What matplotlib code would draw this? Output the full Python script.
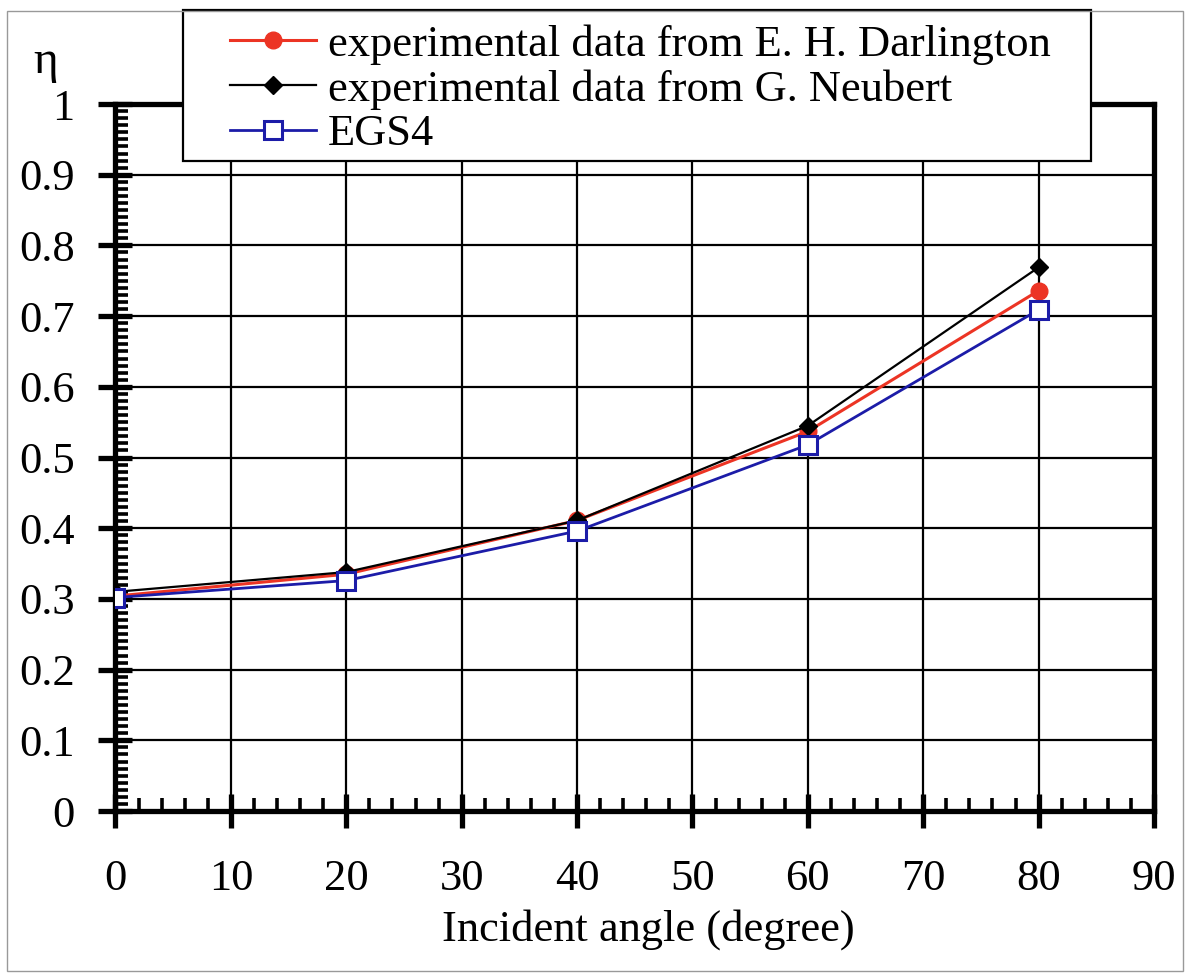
import numpy as np
import matplotlib.pyplot as plt
from matplotlib.patches import Rectangle
from matplotlib.ticker import MultipleLocator

# incident angle (degree)
angles = [0, 20, 40, 60, 80]
# backscattering coefficient eta
darlington = [0.304, 0.335, 0.411, 0.537, 0.736]
neubert = [0.310, 0.338, 0.411, 0.545, 0.769]
egs4 = [0.302, 0.326, 0.396, 0.518, 0.709]

labels = ["experimental data from E. H. Darlington",
          "experimental data from G. Neubert",
          "EGS4"]
ytick_labels = ['0', '0.1', '0.2', '0.3', '0.4', '0.5', '0.6', '0.7', '0.8', '0.9', '1']

plt.rcParams['font.family'] = ['Liberation Serif', 'DejaVu Serif']

fig = plt.figure(figsize=(11.87, 9.74), dpi=100)
ax = fig.add_axes([0.0973, 0.1673, 0.8749, 0.7259])

#Series
l1, = ax.plot(angles, darlington, color='#ec3424', lw=2.2, marker='o', ms=12,
              mec='#ec3424', mfc='#ec3424', zorder=4)
l2, = ax.plot(angles, neubert, color='black', lw=1.6, marker='D', ms=9,
              mfc='black', mec='black', zorder=5)
l3, = ax.plot(angles, egs4, color='#1c1ca8', lw=2.0, marker='s', ms=13,
              mfc='white', mec='#1c1ca8', mew=2.2, zorder=6)

ax.set_xlim(0, 90)
ax.set_ylim(0, 1)
ax.xaxis.set_major_locator(MultipleLocator(10))
ax.xaxis.set_minor_locator(MultipleLocator(2))
ax.yaxis.set_minor_locator(MultipleLocator(0.01))
ax.set_yticks(np.arange(0, 1.01, 0.1))
ax.set_yticklabels(ytick_labels)

ax.grid(True, which='major', color='black', lw=1.6)
ax.set_axisbelow(True)
for s in ax.spines.values():
    s.set_linewidth(3.8)
    s.set_capstyle('projecting')

ax.tick_params(which='major', direction='inout', length=25, width=3.8,
               labelsize=32, colors='black')
ax.tick_params(axis='y', which='major', pad=17)
ax.tick_params(axis='x', which='major', pad=22)
ax.tick_params(which='minor', direction='in', length=9.5, width=2.6)

ax.set_xlabel("Incident angle (degree)", fontsize=32, va='top')
ax.xaxis.set_label_coords(0.513, -0.138)
fig.text(0.0385, 0.937, "η", fontsize=34, ha='center', va='center')

#Legend (frame drawn separately, it is wider than the text padding)
box = Rectangle((183 / 1187, 1 - 161 / 974), 908 / 1187, 151 / 974,
                transform=fig.transFigure, facecolor='white',
                edgecolor='black', lw=1.6, zorder=9, clip_on=False)
ax.add_patch(box)
leg = ax.legend([l1, l2, l3], labels, loc='upper left',
                bbox_to_anchor=(0.110, 1.113),
                fontsize=32, frameon=False, handlelength=1.95,
                handletextpad=0.25, labelspacing=0.1, borderpad=0,
                borderaxespad=0)
leg.set_zorder(10)

# outer frame
fig.patches.append(Rectangle((7 / 1187, 3 / 974), 1176 / 1187, 960 / 974,
                             transform=fig.transFigure, fill=False,
                             edgecolor='#999999', lw=1.0))

fig.savefig('out.png', dpi=100)
